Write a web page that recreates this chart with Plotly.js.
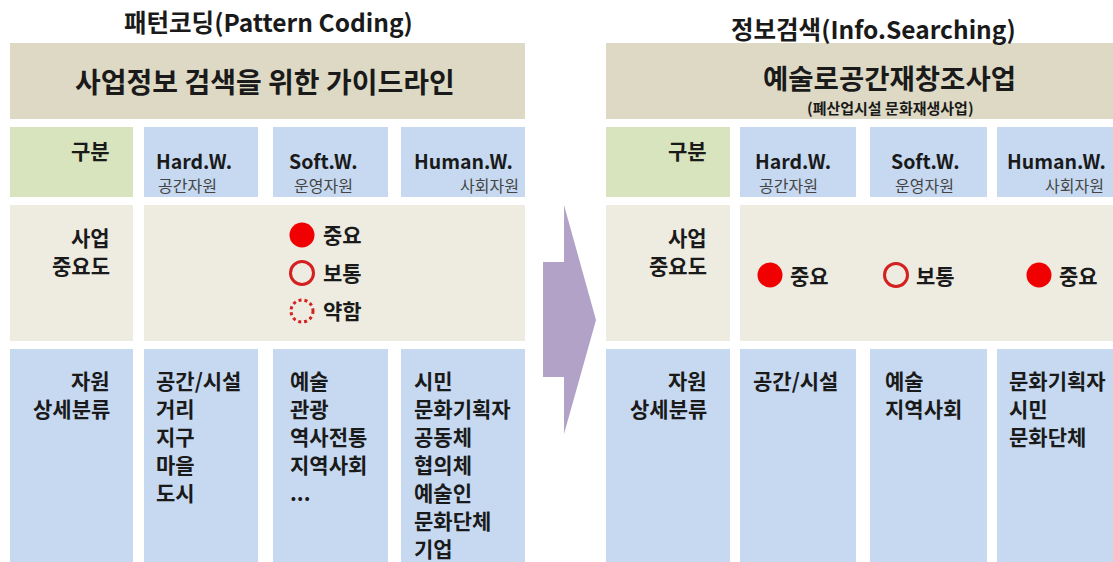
<!DOCTYPE html>
<html>
<head>
<meta charset="utf-8">
<script src="https://cdn.plot.ly/plotly-3.0.1.min.js"></script>
<style>
  html, body { margin: 0; padding: 0; background: #fff; }
  #chart { width: 1113px; height: 562px; }
</style>
</head>
<body>
<div id="chart"></div>
<script>
// diagram text / values
let leftTitle = '패턴코딩(Pattern Coding)';
let rightTitle = '정보검색(Info.Searching)';
let leftHeader = '사업정보 검색을 위한 가이드라인';
let rightHeader = '예술로공간재창조사업';
let rightSub = '(폐산업시설 문화재생사업)';

let colNames = ['Hard.W.', 'Soft.W.', 'Human.W.'];
let colSubs = ['공간자원', '운영자원', '사회자원'];

let rowLabels = [['구분'], ['사업', '중요도'], ['자원', '상세분류']];

let levelNames = ['중요', '보통', '약함'];          // legend, left panel
let rightLevels = ['중요', '보통', '중요'];         // per column, right panel

let leftItems = [
    ['공간/시설', '거리', '지구', '마을', '도시'],
    ['예술', '관광', '역사전통', '지역사회', '...'],
    ['시민', '문화기획자', '공동체', '협의체', '예술인', '문화단체', '기업']
];
let rightItems = [
    ['공간/시설'],
    ['예술', '지역사회'],
    ['문화기획자', '시민', '문화단체']
];

// layout geometry (pixels, y down)
let FONT = '"Noto Sans CJK KR", "Noto Sans", sans-serif';
let rows = { head: [43, 119], r2: [127, 197], r3: [205, 341], r4: [349, 575] };
let panels = [
    {
        label: [10, 133], cols: [[144, 258], [273, 388], [401, 525]], head: [10, 525],
        labelRight: 112,
        nameX: [154, 287, 412],
        subX: [[156, 'left'], [292, 'left'], [521, 'right']],
        itemX: [154, 288, 412]
    },
    {
        label: [606, 730], cols: [[740, 856], [870, 987], [997, 1120]], head: [606, 1120],
        labelRight: 709,
        nameX: [753, 889, 1005],
        subX: [[757, 'left'], [893, 'left'], [1106, 'right']],
        itemX: [751, 883, 1007]
    }
];

let C = {
    tan: '#DDD9C4', cream: '#EEECE1', green: '#D7E4BD', blue: '#C6D9F1',
    arrow: '#B3A2C7', red: '#F00000', ring: '#D42020', text: '#1a1a1a', sub: '#444444'
};

let shapes = [];
let annotations = [];

function box(x, y, color) {
    shapes.push({
        type: 'rect', xref: 'x', yref: 'y', layer: 'below',
        x0: x[0], x1: x[1], y0: y[0], y1: y[1],
        fillcolor: color, line: { width: 0 }
    });
}

function label(text, x, y, size, opts) {
    opts = opts || {};
    annotations.push({
        xref: 'x', yref: 'y', x: x, y: y, text: opts.normal ? text : '<b>' + text + '</b>',
        showarrow: false, xanchor: opts.anchor || 'center', yanchor: 'middle',
        font: { family: FONT, size: size, color: opts.color || C.text }
    });
}

// boxes
panels.forEach(function (p) {
    box(p.head, rows.head, C.tan);
    box(p.label, rows.r2, C.green);
    box(p.label, rows.r3, C.cream);
    box([p.cols[0][0], p.cols[2][1]], rows.r3, C.cream);
    box(p.label, rows.r4, C.blue);
    p.cols.forEach(function (c) {
        box(c, rows.r2, C.blue);
        box(c, rows.r4, C.blue);
    });
});

// arrow between panels
shapes.push({
    type: 'path', xref: 'x', yref: 'y', layer: 'below',
    path: 'M543,262 L564,262 L564,205 L596,320 L564,434 L564,377 L543,377 Z',
    fillcolor: C.arrow, line: { width: 0 }
});

// titles and headers
label(leftTitle, 268, 21, 24.5);
label(rightTitle, 873, 28, 24.5);
label(leftHeader, 265, 81, 28);
label(rightHeader, 889, 77, 27.5);
label(rightSub, 890, 107, 15);

// row labels and column headers
let bodySize = 21;
panels.forEach(function (p) {
    label(rowLabels[0][0], p.labelRight, 150, bodySize, { anchor: 'right' });
    label(rowLabels[1][0], p.labelRight, 237, bodySize, { anchor: 'right' });
    label(rowLabels[1][1], p.labelRight, 265, bodySize, { anchor: 'right' });
    label(rowLabels[2][0], p.labelRight, 380, bodySize, { anchor: 'right' });
    label(rowLabels[2][1], p.labelRight, 408, bodySize, { anchor: 'right' });
    colNames.forEach(function (n, i) {
        label(n, p.nameX[i], 160, 19.5, { anchor: 'left' });
        label(colSubs[i], p.subX[i][0], 185, 16, { anchor: p.subX[i][1], normal: true, color: C.sub });
    });
});

// detail items
let itemStep = 28;
[leftItems, rightItems].forEach(function (items, k) {
    items.forEach(function (list, i) {
        list.forEach(function (t, j) {
            label(t, panels[k].itemX[i], 380 + j * itemStep, bodySize, { anchor: 'left' });
        });
    });
});

// importance marks
let legendX = 302, legendY = [235, 273, 311];
let rightMarkX = [770, 896, 1039], rightMarkY = 275;

let markStyle = {
    '중요': { symbol: 'circle', size: 25, color: C.red, line: { width: 0 } },
    '보통': { symbol: 'circle-open', size: 23, color: C.ring, line: { width: 3, color: C.ring } }
};

let traces = [];
function addMarks(xs, ys, lvls) {
    lvls.forEach(function (lv, i) {
        if (lv === '약함') {
            shapes.push({
                type: 'circle', xref: 'x', yref: 'y',
                x0: xs[i] - 11, x1: xs[i] + 11, y0: ys[i] - 11, y1: ys[i] + 11,
                line: { color: C.ring, width: 3, dash: 'dot' }
            });
        } else {
            traces.push({
                type: 'scatter', mode: 'markers', x: [xs[i]], y: [ys[i]],
                marker: markStyle[lv], hoverinfo: 'skip', showlegend: false
            });
        }
    });
}
addMarks(levelNames.map(function () { return legendX; }), legendY, levelNames);
levelNames.forEach(function (lv, i) { label(lv, legendX + 19, legendY[i] - 1, bodySize, { anchor: 'left' }); });

addMarks(rightMarkX, rightLevels.map(function () { return rightMarkY; }), rightLevels);
rightLevels.forEach(function (lv, i) { label(lv, rightMarkX[i] + 18, rightMarkY, bodySize, { anchor: 'left' }); });

let layout = {
    width: 1113, height: 562,
    margin: { l: 0, r: 0, t: 0, b: 0 },
    paper_bgcolor: '#ffffff', plot_bgcolor: '#ffffff',
    xaxis: { range: [0, 1113], visible: false, fixedrange: true },
    yaxis: { range: [562, 0], visible: false, fixedrange: true },
    shapes: shapes, annotations: annotations,
    hovermode: false, showlegend: false
};

Plotly.newPlot('chart', traces, layout, { displayModeBar: false, staticPlot: true });
</script>
</body>
</html>
